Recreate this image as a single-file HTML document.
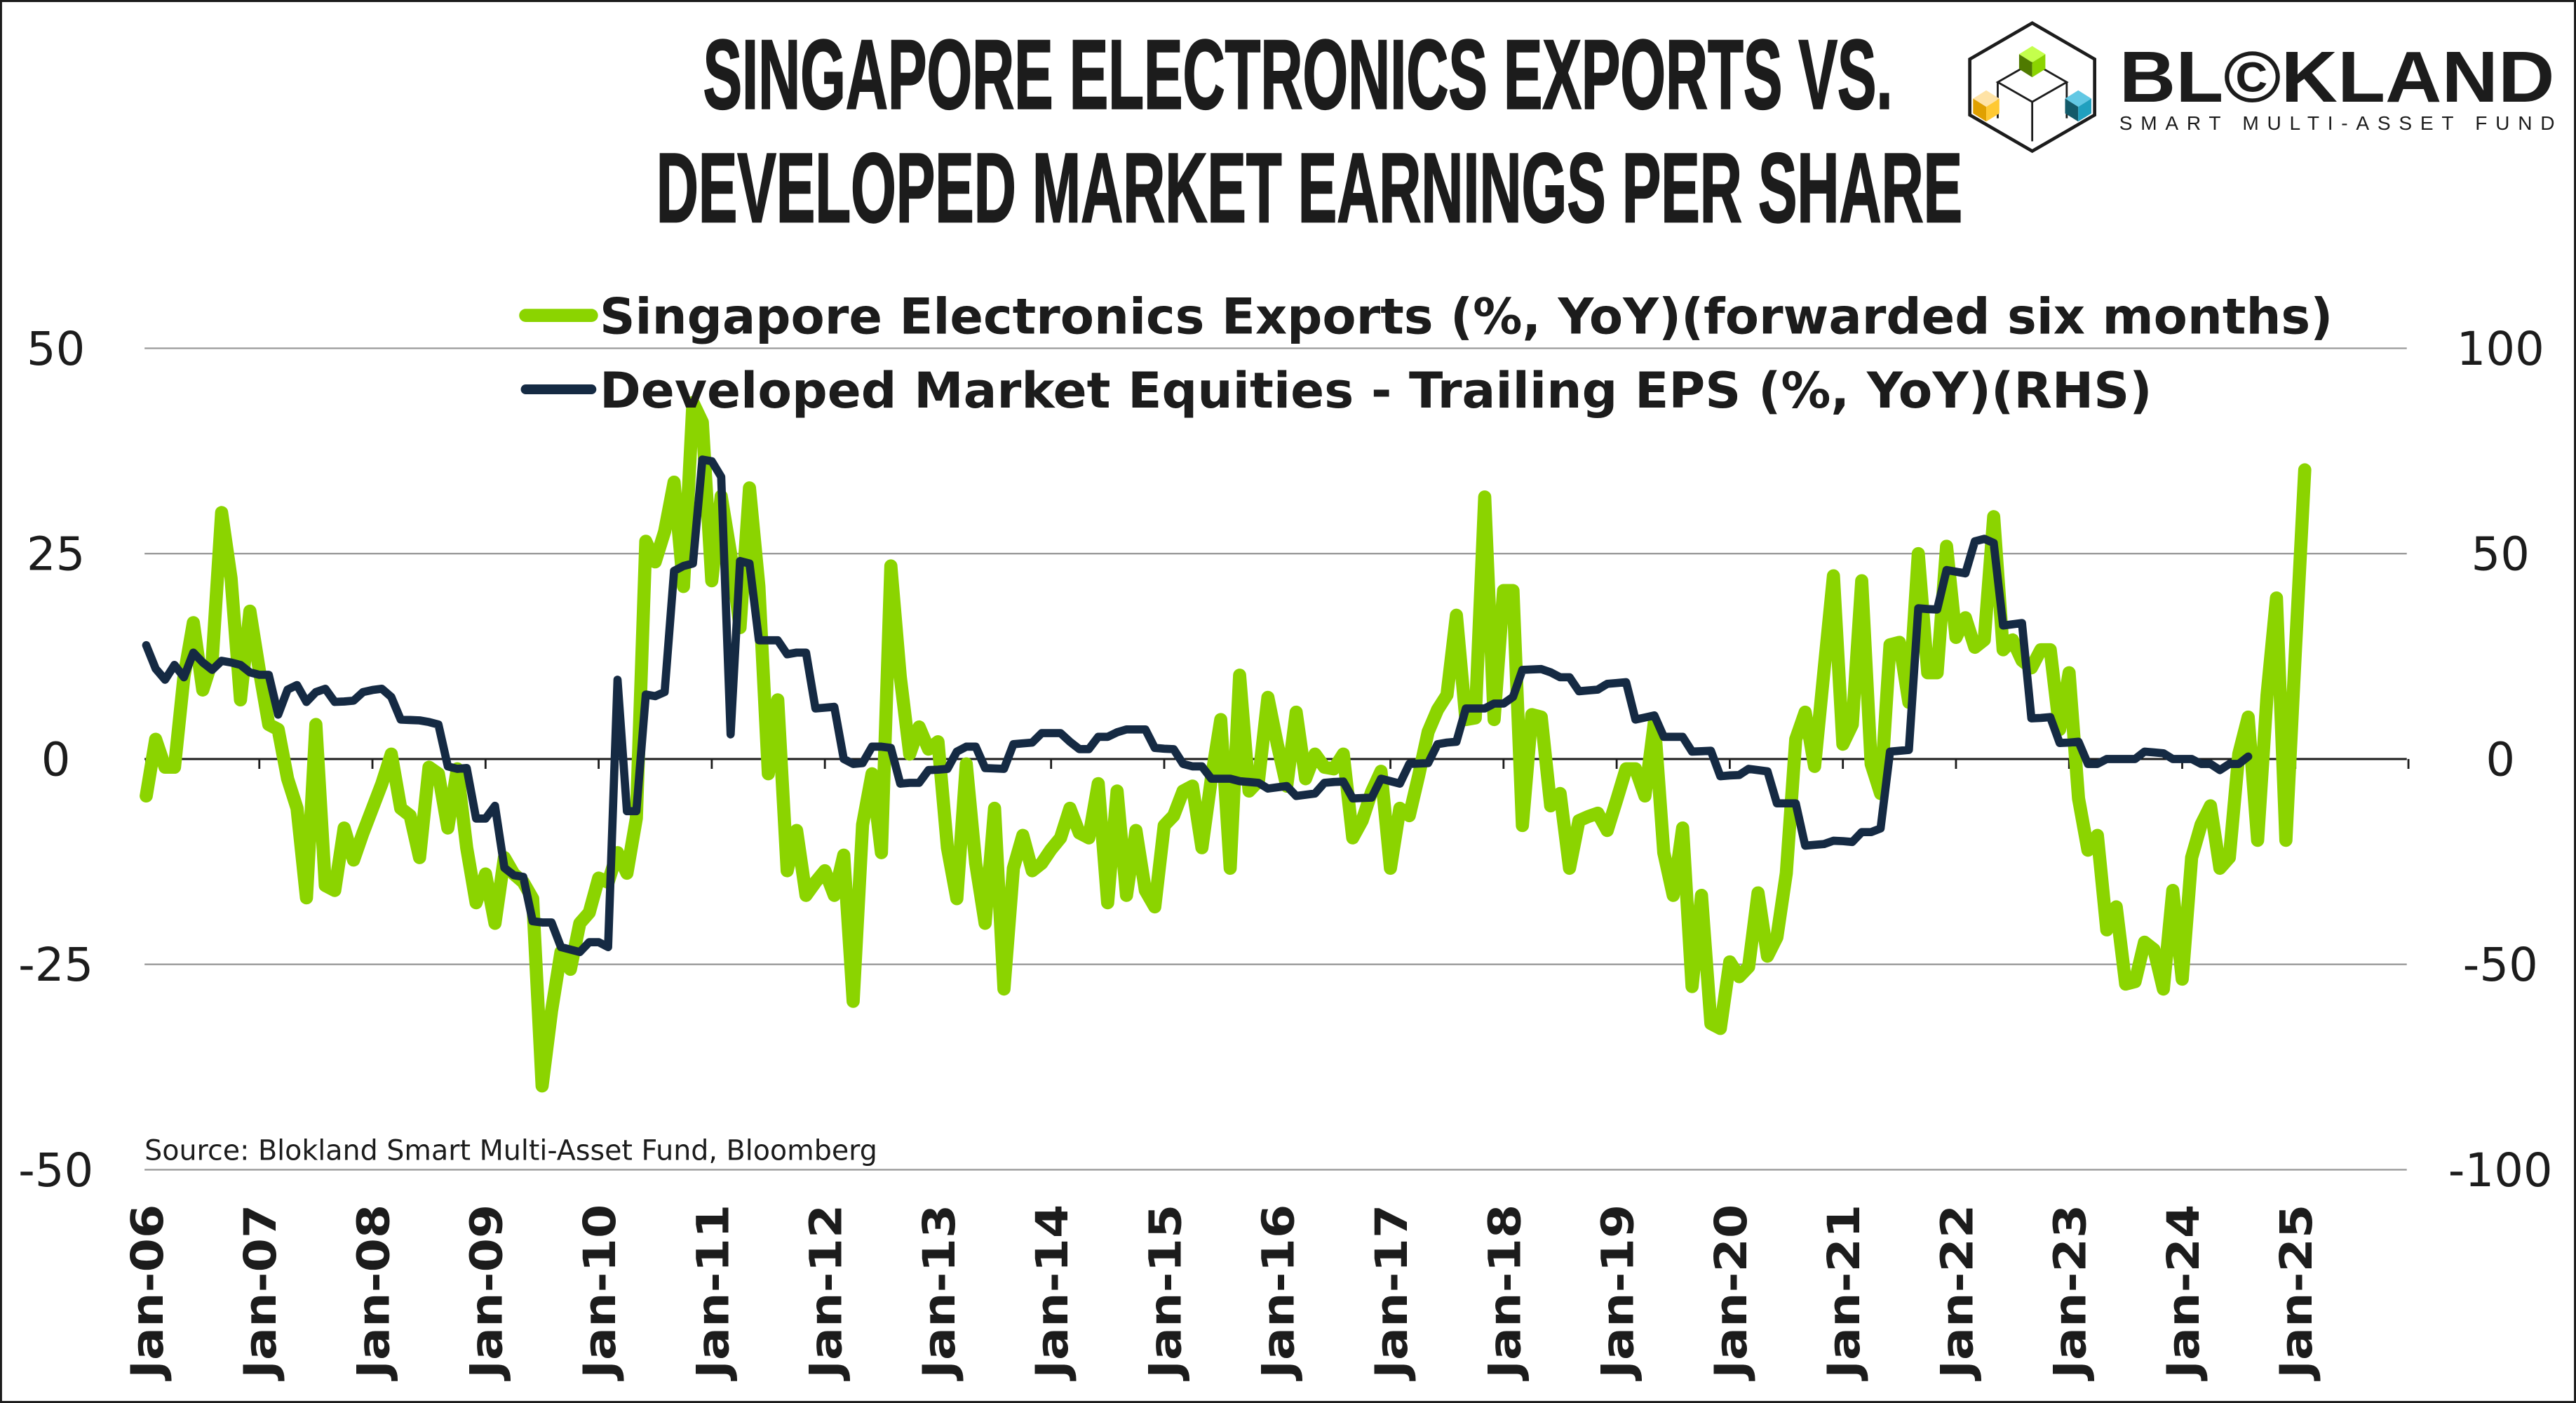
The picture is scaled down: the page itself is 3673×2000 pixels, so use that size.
<!DOCTYPE html>
<html><head><meta charset="utf-8"><style>
html,body{margin:0;padding:0;background:#fff;}
svg{display:block;}
text{font-family:"DejaVu Sans","Liberation Sans",sans-serif;fill:#1c1c1c;}
</style></head><body>
<svg id="chart" width="3673" height="2000" viewBox="0 0 1568 854" preserveAspectRatio="none" xmlns="http://www.w3.org/2000/svg">
<rect x="0.6" y="0.6" width="1566.8" height="852.8" fill="#fff" stroke="#1c1c1c" stroke-width="1.3"/>
<text x="790" y="66" text-anchor="middle" textLength="724" lengthAdjust="spacingAndGlyphs" style="font-family:'Liberation Sans Narrow','Liberation Sans',sans-serif;font-weight:bold;font-size:60px;fill:#1c1c1c;stroke:#1c1c1c;stroke-width:1">SINGAPORE ELECTRONICS EXPORTS VS.</text>
<text x="797" y="135" text-anchor="middle" textLength="795" lengthAdjust="spacingAndGlyphs" style="font-family:'Liberation Sans Narrow','Liberation Sans',sans-serif;font-weight:bold;font-size:60px;fill:#1c1c1c;stroke:#1c1c1c;stroke-width:1">DEVELOPED MARKET EARNINGS PER SHARE</text>
<g>
  <polygon points="1237,14 1275,36 1275,70 1237,92 1199,70 1199,36" fill="none" stroke="#1c1c1c" stroke-width="2"/>
  <polygon points="1237,38 1258,50 1237,62 1216,50" fill="none" stroke="#1c1c1c" stroke-width="1.2"/>
  <line x1="1216" y1="50" x2="1216" y2="72" stroke="#1c1c1c" stroke-width="1.2"/>
  <line x1="1258" y1="50" x2="1258" y2="72" stroke="#1c1c1c" stroke-width="1.2"/>
  <line x1="1237" y1="62" x2="1237" y2="86" stroke="#1c1c1c" stroke-width="1.2"/>
  <polygon points="1237,28 1245,33 1237,38 1229,33" fill="#c4ff4c"/>
  <polygon points="1229,33 1237,38 1237,47 1229,42" fill="#4f7a00"/>
  <polygon points="1237,38 1245,33 1245,42 1237,47" fill="#8bd400"/>
  <polygon points="1209,55 1217,60 1209,65 1201,60" fill="#ffe3a6"/>
  <polygon points="1201,60 1209,65 1209,74 1201,69" fill="#e0a000"/>
  <polygon points="1209,65 1217,60 1217,69 1209,74" fill="#ffc933"/>
  <polygon points="1265,55 1273,60 1265,65 1257,60" fill="#62c8e4"/>
  <polygon points="1257,60 1265,65 1265,74 1257,69" fill="#135a6a"/>
  <polygon points="1265,65 1273,60 1273,69 1265,74" fill="#20a0bf"/>
  <text x="1290" y="62" textLength="265" lengthAdjust="spacingAndGlyphs" style="font-family:'Liberation Sans',sans-serif;font-weight:bold;font-size:44px;fill:#1c1c1c">BL©KLAND</text>
  <text x="1290" y="79" textLength="265" lengthAdjust="spacing" style="font-family:'Liberation Sans',sans-serif;font-size:12px;fill:#1c1c1c">SMART MULTI-ASSET FUND</text>
</g>
<g id="grid"></g>
<g id="series"></g>
<g>
  <line x1="320" y1="192" x2="360" y2="192" stroke="#8bd400" stroke-width="8" stroke-linecap="round"/>
  <text x="365" y="203" textLength="1055" lengthAdjust="spacingAndGlyphs" style="font-size:30px;font-weight:bold">Singapore Electronics Exports (%, YoY)(forwarded six months)</text>
  <line x1="320" y1="237" x2="360" y2="237" stroke="#152a43" stroke-width="6" stroke-linecap="round"/>
  <text x="365" y="248" textLength="945" lengthAdjust="spacingAndGlyphs" style="font-size:30px;font-weight:bold">Developed Market Equities - Trailing EPS (%, YoY)(RHS)</text>
</g>
<text x="88" y="706" textLength="446" lengthAdjust="spacingAndGlyphs" style="font-size:17px">Source: Blokland Smart Multi-Asset Fund, Bloomberg</text>
</svg>
<script>
const exportsValues=[-4.5,2.4,-1,-1,10,16.6,8.4,12,30,22,7.2,18,10.8,4.2,3.6,-2.4,-6,-16.9,4.2,-15.4,-16,-8.4,-12.3,-9,-6,-3,0.6,-6,-6.9,-12,-1,-1.8,-8.4,-1.2,-10.8,-17.5,-14,-20,-12,-14,-15,-17,-39.8,-30.7,-23.5,-25.6,-20,-18.7,-14.5,-15,-11.4,-13.9,-7.2,26.5,24,27.7,33.7,21,43.4,41,21.7,32,25,16,33,21,-1.8,7.2,-13.6,-8.7,-16.6,-15,-13.6,-16.6,-11.7,-29.5,-8,-1.8,-11.4,23.5,10,0.6,3.9,1.2,2.1,-10.8,-17,-0.6,-12.7,-20,-6,-28,-13.3,-9.3,-13.6,-12.7,-11,-9.6,-6,-9,-9.6,-3,-17.5,-3.9,-16.6,-8.7,-16,-18,-8.1,-6.9,-3.9,-3.3,-10.8,-2.4,4.8,-13.3,10.2,-3.9,-2.7,7.5,1.8,-3.3,5.7,-2.4,0.6,-1,-1.2,0.6,-9.6,-7.5,-4,-1.5,-13.3,-6,-6.9,-2,3.3,6,7.8,17.5,4.8,5,31.9,4.8,20.5,20.5,-8.1,5.4,5.1,-5.7,-4.2,-13.3,-7.5,-7,-6.6,-8.7,-5,-1.2,-1.2,-4.5,4.5,-11.4,-16.6,-8.4,-27.7,-16.6,-32.2,-32.8,-24.7,-26.5,-25.3,-16.3,-24,-21.7,-13.9,2.4,5.7,-0.9,10.8,22.3,1.8,4.2,21.7,-0.6,-4.2,13.9,14.2,6.9,25,10.5,10.5,25.9,14.8,17.2,13.6,14.5,29.5,13.3,14.5,12,11.1,13.3,13.3,3.6,10.5,-4.8,-11.1,-9.3,-20.8,-18,-27.4,-27.1,-22.3,-23.2,-28,-16,-26.8,-12,-8,-5.7,-13.3,-12,0.6,5.1,-9.9,7.8,19.6,-9.9,13,35.2];
const epsValues=[27.7,22,19.3,22.9,19.9,25.9,23.5,21.7,23.9,23.5,22.9,21.1,20.5,20.5,10.8,16.9,18,13.9,16.3,17.1,13.9,14,14.2,16.3,16.8,17.1,15.1,9.6,9.5,9.4,9,8.4,-1.8,-2.4,-2.2,-14.5,-14.5,-11.4,-26.5,-28.3,-28.7,-39.5,-39.8,-39.8,-45.8,-46.4,-47,-44.6,-44.6,-45.8,19.3,-12.7,-12.7,15.7,15.3,16.3,45.8,47,47.6,72.9,72.5,68.7,6,48.2,47.6,28.9,28.9,28.9,25.5,25.9,25.9,12.3,12.5,12.7,0,-1.2,-1,3,3,2.7,-6,-5.8,-5.8,-2.7,-2.6,-2.4,1.8,3,3,-2.2,-2.3,-2.4,3.6,3.8,4,6.3,6.3,6.3,4.2,2.4,2.4,5.4,5.4,6.5,7.2,7.2,7.2,2.7,2.5,2.4,-1.2,-1.8,-1.8,-4.8,-4.8,-4.8,-5.4,-5.6,-5.8,-7.2,-6.9,-6.6,-9,-8.7,-8.4,-5.8,-5.6,-5.5,-9.6,-9.5,-9.4,-4.8,-5.4,-6,-1.2,-1.1,-1,3.6,4,4.2,12.3,12.3,12.3,13.5,13.5,15.1,21.7,21.8,21.9,21.1,19.9,19.9,16.5,16.7,16.9,18.3,18.5,18.7,9.6,10.1,10.6,5.4,5.4,5.4,1.8,1.9,2,-4.2,-4,-3.9,-2.4,-2.7,-3,-10.8,-10.8,-10.8,-21.1,-20.9,-20.7,-19.9,-20,-20.2,-17.8,-17.8,-16.9,1.8,2,2.2,36.7,36.5,36.4,46,45.6,45.2,53,53.6,52.6,32.5,32.8,33.1,9.9,10,10.2,3.9,4,4.2,-1.2,-1.2,0,0,0,0,1.8,1.6,1.4,0,0,0,-1.2,-1.2,-2.7,-1.2,-1.2,0.6];
const leftTicks=[50,25,0,-25,-50];
const rightTicks=[100,50,0,-50,-100];
const yearLabels=["Jan-06","Jan-07","Jan-08","Jan-09","Jan-10","Jan-11","Jan-12","Jan-13","Jan-14","Jan-15","Jan-16","Jan-17","Jan-18","Jan-19","Jan-20","Jan-21","Jan-22","Jan-23","Jan-24","Jan-25"];

const NS="http://www.w3.org/2000/svg";
const X0=89, PER_MONTH=68.85/12, XEND=1465;
function xm(m){return X0+m*PER_MONTH;}
function yL(v){return 462-v*5;}
function yR(v){return 462-v*2.5;}
function mk(tag,attrs,parent){const e=document.createElementNS(NS,tag);for(const k in attrs)e.setAttribute(k,attrs[k]);parent.appendChild(e);return e;}
const grid=document.getElementById('grid');
leftTicks.forEach((v)=>{
  if(v!==0){const g=mk('line',{x1:X0-1,x2:XEND,y1:yL(v),y2:yL(v),stroke:'#9a9a9a','stroke-width':1},grid);
  
  }
  const t=mk('text',{x:34,y:yL(v)+10,'text-anchor':'middle',style:'font-size:28px'},grid);
  t.textContent=String(v);
  
  
});
rightTicks.forEach((v)=>{
  const t=mk('text',{x:1522,y:yR(v)+10,'text-anchor':'middle',style:'font-size:28px'},grid);
  t.textContent=String(v);
  
  
});
const zl=mk('line',{x1:X0-1,x2:XEND,y1:462,y2:462,stroke:'#1c1c1c','stroke-width':1.3},grid);


for(let i=0;i<=20;i++){
  const tk=mk('line',{x1:xm(i*12),x2:xm(i*12),y1:462,y2:468,stroke:'#1c1c1c','stroke-width':1.2},grid);
  
  
}
yearLabels.forEach((lab,i)=>{
  const x=xm(i*12)+10;
  const t=mk('text',{x:0,y:0,'text-anchor':'end',transform:'translate('+x+',733) rotate(-90)',style:'font-size:27px;font-weight:bold',textLength:106,lengthAdjust:'spacingAndGlyphs'},grid);
  t.textContent=lab;
  
  
});
const series=document.getElementById('series');
const gp=mk('polyline',{points:exportsValues.map((v,i)=>xm(i).toFixed(2)+','+yL(v).toFixed(2)).join(' '),fill:'none',stroke:'#8bd400','stroke-width':8,'stroke-linejoin':'round','stroke-linecap':'round'},series);


const dp=mk('polyline',{points:epsValues.map((v,i)=>xm(i).toFixed(2)+','+yR(v).toFixed(2)).join(' '),fill:'none',stroke:'#152a43','stroke-width':5,'stroke-linejoin':'round','stroke-linecap':'round'},series);


</script>
</body></html>
